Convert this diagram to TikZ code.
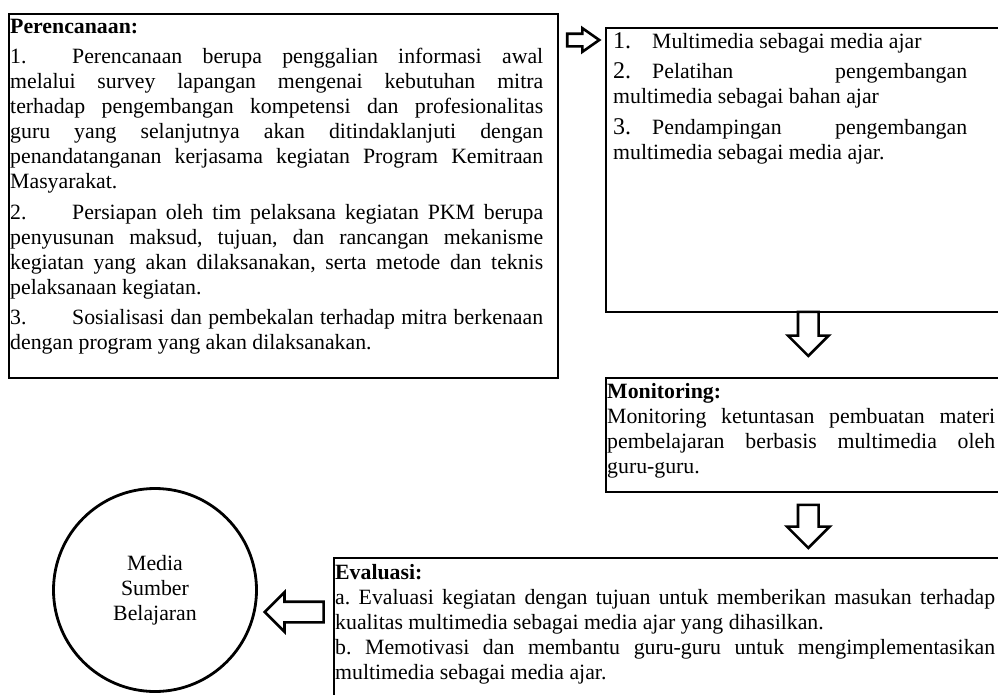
\documentclass[tikz,border=0pt]{standalone}
\usepackage{fontspec}
\setmainfont{Liberation Serif}
\usepackage{tikz}
\usetikzlibrary{positioning}
\usetikzlibrary{shapes.arrows}

\newcommand{\boxfont}{\fontsize{21.8pt}{25pt}\selectfont\frenchspacing}
\newcommand{\numfont}{\fontsize{24pt}{25pt}\selectfont}

\begin{document}
\begin{tikzpicture}[x=1pt,y=-1pt,
		box/.style = {draw,rectangle,line width=1.6pt,anchor=north west,inner sep=0pt},
		boxtext/.style = {anchor=base west,inner sep=0pt,align=justify,font=\boxfont},
		blockarrow/.style = {draw,single arrow,fill=white,line width=2.6pt,inner sep=0pt,single arrow head indent=0pt}]
		\useasboundingbox (0,0) rectangle (998,694);
		\clip (0,0) rectangle (998,694);
		\node[box,minimum width=549pt,minimum height=364pt] at (8,13) (plan) {};
		\node[box,minimum width=405pt,minimum height=284pt] at (605,27) (multi) {};
		\node[box,minimum width=405pt,minimum height=114pt] at (605,377) (monit) {};
		\node[box,minimum width=677pt,minimum height=160pt] at (333,557) (evalu) {};
		\node[circle,draw,line width=2.8pt,minimum size=203pt,align=center,font=\boxfont] at (155,590) (sumber)
		{Media\\Sumber\\Belajaran};
		\node[boxtext,text width=533pt] at ([shift={(2,20)}]plan.north west) (planText)
		{\setlength{\parskip}{5.5pt}%
			\textbf{Perencanaan:}\par
			\makebox[62pt][l]{1.}Perencanaan berupa penggalian informasi awal\linebreak
			melalui survey lapangan mengenai kebutuhan mitra\linebreak
			terhadap pengembangan kompetensi dan profesionalitas\linebreak
			guru yang selanjutnya akan ditindaklanjuti dengan\linebreak
			penandatanganan kerjasama kegiatan Program Kemitraan\linebreak
			Masyarakat.\par
			\makebox[62pt][l]{2.}Persiapan oleh tim pelaksana kegiatan PKM berupa\linebreak
			penyusunan maksud, tujuan, dan rancangan mekanisme\linebreak
			kegiatan yang akan dilaksanakan, serta metode dan teknis\linebreak
			pelaksanaan kegiatan.\par
			\makebox[62pt][l]{3.}Sosialisasi dan pembekalan terhadap mitra berkenaan\linebreak
			dengan program yang akan dilaksanakan.};
		\node[boxtext,text width=354pt] at ([shift={(8,21)}]multi.north west) (multiText)
		{\setlength{\parskip}{5.5pt}%
			\makebox[39pt][l]{\numfont 1.}Multimedia sebagai media ajar\par
			\makebox[39pt][l]{\numfont 2.}Pelatihan pengembangan\linebreak
			multimedia sebagai bahan ajar\par
			\makebox[39pt][l]{\numfont 3.}Pendampingan pengembangan\linebreak
			multimedia sebagai media ajar.};
		\node[boxtext,text width=388pt] at ([shift={(2,21)}]monit.north west) (monitText)
		{\textbf{Monitoring:}\par
			Monitoring ketuntasan pembuatan materi\linebreak
			pembelajaran berbasis multimedia oleh\linebreak
			guru-guru.};
		\node[boxtext,text width=660pt] at ([shift={(2,22)}]evalu.north west) (evaluText)
		{\textbf{Evaluasi:}\par
			a. Evaluasi kegiatan dengan tujuan untuk memberikan masukan terhadap\linebreak
			kualitas multimedia sebagai media ajar yang dihasilkan.\par
			b. Memotivasi dan membantu guru-guru untuk mengimplementasikan\linebreak
			multimedia sebagai media ajar.};
		\node[blockarrow,inner ysep=5pt,single arrow head extend=5.5pt,single arrow tip angle=70,minimum height=32pt,left=3.5pt of multi.north west,yshift=-13pt] (arrA) {};
		\node[blockarrow,shape border rotate=270,inner xsep=9pt,single arrow head extend=10pt,minimum height=44pt,below=-2pt of multi.south] (arrB) {};
		\node[blockarrow,shape border rotate=270,inner xsep=9pt,single arrow head extend=11pt,minimum height=43pt,below=11pt of monit.south] (arrC) {};
		\node[blockarrow,shape border rotate=180,inner ysep=9pt,single arrow head extend=9.5pt,minimum height=59pt,left=8pt of evalu.north west,yshift=-55pt] (arrD) {};
	\end{tikzpicture}
\end{document}
